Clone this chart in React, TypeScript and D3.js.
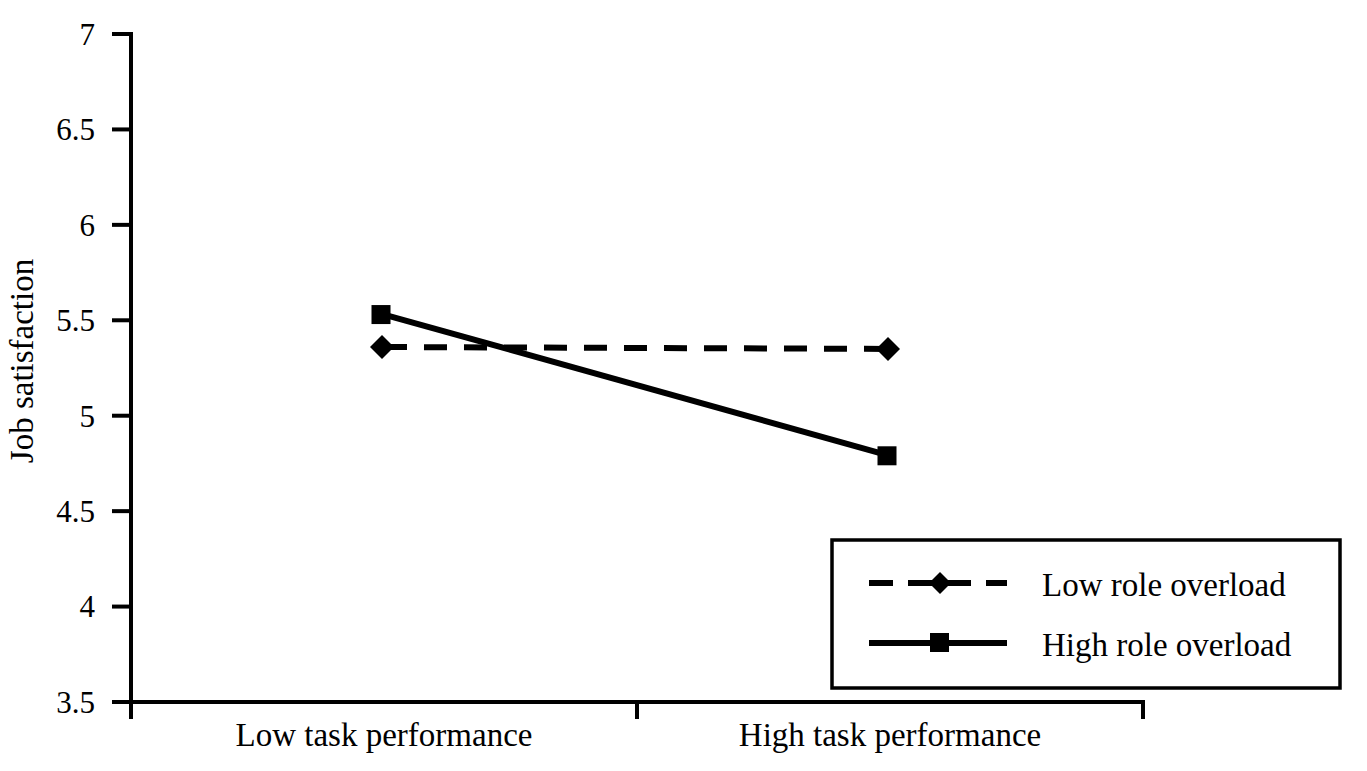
import React from "react";
import * as d3 from "d3";

const categories = ["Low task performance", "High task performance"];
const lowOverload = [5.36, 5.35];
const highOverload = [5.53, 4.79];
const yTicks = [3.5, 4, 4.5, 5, 5.5, 6, 6.5, 7];
const seriesNames = ["Low role overload", "High role overload"];

const W = 1367;
const H = 771;
const FONT = "'Liberation Serif', 'Times New Roman', serif";

export default function App() {
  const x = d3.scaleBand<string>().domain(categories).range([131, 1143]);
  const y = d3.scaleLinear().domain([3.5, 7]).range([702, 34]);
  const cx = (c: string) => (x(c) as number) + x.bandwidth() / 2;
  const line = d3
    .line<number>()
    .x((_, i) => cx(categories[i]))
    .y((v) => y(v));

  const diamond = (px: number, py: number, r: number) =>
    `M${px},${py - r}L${px + r},${py}L${px},${py + r}L${px - r},${py}Z`;

  const xTickPos = [131, ...categories.map((c) => (x(c) as number) + x.bandwidth())];

  return (
    <svg width={W} height={H} style={{ position: "absolute", left: 0, top: 0, background: "#fff" }}>
      <rect width={W} height={H} fill="#fff" />
      {/* y axis */}
      <line x1={131} x2={131} y1={32} y2={719} stroke="#000" strokeWidth={4} />
      {yTicks.map((t) => (
        <g key={t}>
          <line x1={112} x2={131} y1={y(t)} y2={y(t)} stroke="#000" strokeWidth={4} />
          <text x={95} y={y(t)} dy="0.35em" textAnchor="end" fontFamily={FONT} fontSize={31}>
            {t}
          </text>
        </g>
      ))}
      <text
        transform={`translate(33,${361}) rotate(-90)`}
        textAnchor="middle"
        fontFamily={FONT}
        fontSize={33}
      >
        Job satisfaction
      </text>
      {/* x axis */}
      <line x1={113} x2={1145} y1={702} y2={702} stroke="#000" strokeWidth={4} />
      {xTickPos.map((p, i) => (
        <line key={i} x1={p} x2={p} y1={702} y2={719} stroke="#000" strokeWidth={4} />
      ))}
      {categories.map((c) => (
        <text key={c} x={cx(c)} y={746} textAnchor="middle" fontFamily={FONT} fontSize={33}>
          {c}
        </text>
      ))}
      {/* series */}
      <path d={line(lowOverload) || ""} fill="none" stroke="#000" strokeWidth={6} strokeDasharray="23 17" />
      {lowOverload.map((v, i) => (
        <path key={i} d={diamond(cx(categories[i]) - 2, y(v), 12)} fill="#000" />
      ))}
      <path d={line(highOverload) || ""} fill="none" stroke="#000" strokeWidth={6} />
      {highOverload.map((v, i) => (
        <rect key={i} x={cx(categories[i]) - 3 - 9.5} y={y(v) - 9.5} width={19} height={19} fill="#000" />
      ))}
      {/* legend */}
      <rect x={832} y={540} width={508} height={148} fill="#fff" stroke="#000" strokeWidth={3.5} />
      <line x1={869} x2={1007} y1={583} y2={583} stroke="#000" strokeWidth={6} strokeDasharray="24 15" />
      <path d={diamond(940, 583, 11)} fill="#000" />
      <text x={1042} y={584} dy="0.35em" fontFamily={FONT} fontSize={33}>
        {seriesNames[0]}
      </text>
      <line x1={869} x2={1007} y1={643} y2={643} stroke="#000" strokeWidth={6} />
      <rect x={930} y={633} width={19} height={19} fill="#000" />
      <text x={1042} y={644} dy="0.35em" fontFamily={FONT} fontSize={33}>
        {seriesNames[1]}
      </text>
    </svg>
  );
}
